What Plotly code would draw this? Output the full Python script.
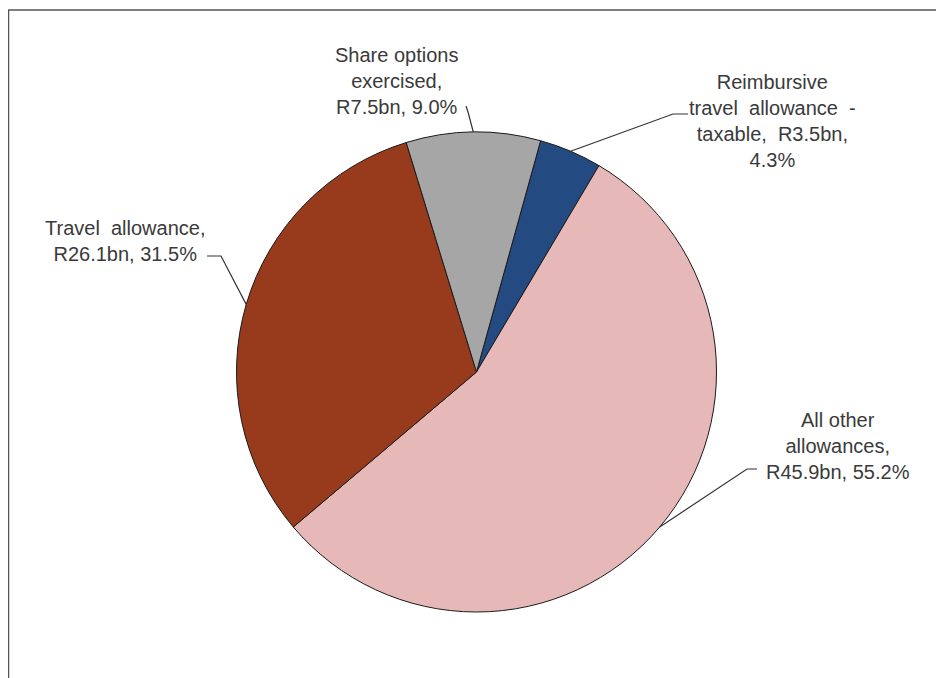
import math
import plotly.graph_objects as go

# slices in clockwise order, starting just right of 12 o'clock
categories = ["Reimbursive travel allowance - taxable", "All other allowances",
              "Travel allowance", "Share options exercised"]
values_bn = [3.5, 45.9, 26.1, 7.5]
shares_pct = [4.3, 55.2, 31.5, 9.0]
label_text = [
    "Reimbursive<br>travel  allowance  -<br>taxable,  R3.5bn,<br>4.3%",
    "All other<br>allowances,<br>R45.9bn, 55.2%",
    "Travel  allowance,<br>R26.1bn, 31.5%",
    "Share options<br>exercised,<br>R7.5bn, 9.0%",
]
colors = ["#244a82", "#e6b9b8", "#973b1c", "#a6a6a6"]

W, H = 944, 678
OFF = 8  # page body margin, positions below are screen pixels
CX, CY, R = 476.5, 372, 240
ROTATION = 15.5

# label placement (screen pixels): text centre, elbow of leader, end of leader
label_pos = [(772, 121), (838, 446), (125, 241), (396, 81)]
leader_elbow = [(673, 114), (747, 469), (221, 256), (468, 112)]
leader_end = [(688, 114), (757, 469), (207, 256), (466, 106)]


def px(x):
    return (x - OFF) / W


def py(y):
    return 1 - (y - OFF) / H


fig = go.Figure(go.Pie(
    labels=categories,
    values=values_bn,
    sort=False,
    direction="clockwise",
    rotation=ROTATION,
    marker=dict(colors=colors, line=dict(color="#1a1a1a", width=1)),
    textinfo="none",
    hoverinfo="label+value+percent",
    showlegend=False,
    domain=dict(x=[px(CX - R), px(CX + R)], y=[py(CY + R), py(CY - R)]),
))

shapes = []
annotations = []
total = sum(values_bn)
angle = ROTATION
for i, v in enumerate(values_bn):
    span = v / total * 360
    mid = math.radians(angle + span / 2)
    angle += span
    ex, ey = CX + R * math.sin(mid), CY - R * math.cos(mid)
    (bx, by), (tx, ty) = leader_elbow[i], leader_end[i]
    shapes.append(dict(
        type="path", xref="paper", yref="paper",
        path=f"M {px(ex)},{py(ey)} L {px(bx)},{py(by)} L {px(tx)},{py(ty)}",
        line=dict(color="#333333", width=1.2),
    ))
    lx, ly = label_pos[i]
    annotations.append(dict(
        x=px(lx), y=py(ly), xref="paper", yref="paper",
        text=label_text[i], showarrow=False,
        xanchor="center", yanchor="middle", align="center",
        font=dict(family="Liberation Sans, Arial, sans-serif", size=20, color="#3a3a3a"),
    ))

# chart frame (top and left edges visible)
shapes.append(dict(type="path", xref="paper", yref="paper",
                   path=f"M {px(8.5)},{py(H + OFF)} L {px(8.5)},{py(10)} L {px(W + OFF)},{py(10)}",
                   line=dict(color="#555555", width=1.5)))

fig.update_layout(
    width=W, height=H,
    margin=dict(l=0, r=0, t=0, b=0),
    paper_bgcolor="white",
    plot_bgcolor="white",
    shapes=shapes,
    annotations=annotations,
)

fig.write_html("out.html")
